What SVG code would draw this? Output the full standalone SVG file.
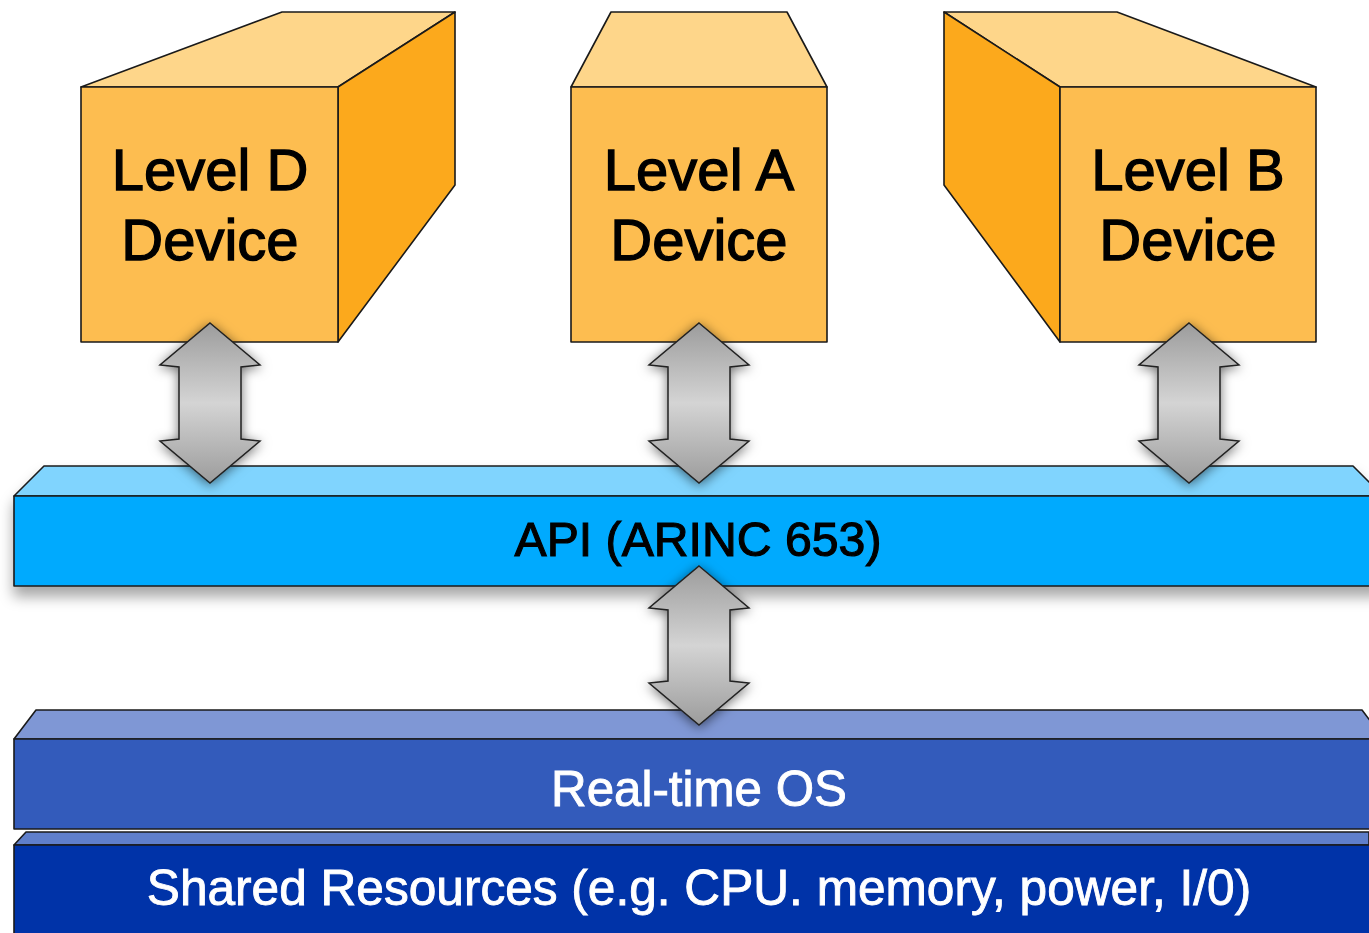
<svg xmlns="http://www.w3.org/2000/svg" width="1369" height="933" viewBox="0 0 1369 933">
<defs>
<style>
.edge{stroke:#1a1a1a;stroke-width:1.6;stroke-linejoin:round}
.topo{fill:#fed68a}
.front{fill:#fdbd50}
.side{fill:#fca91c}
.lbl{font-family:"Liberation Sans",Arial,sans-serif;font-size:58px;fill:#000;stroke:#000;stroke-width:1.3;text-anchor:middle}
.bar{font-family:"Liberation Sans",Arial,sans-serif;text-anchor:middle}
.arrow{fill:url(#ag);stroke:#222;stroke-width:1.5;stroke-linejoin:miter;filter:url(#ash)}
</style>
<linearGradient id="ag" x1="0" y1="0" x2="0" y2="1">
<stop offset="0" stop-color="#9c9c9c"/>
<stop offset="0.5" stop-color="#d4d4d4"/>
<stop offset="1" stop-color="#9c9c9c"/>
</linearGradient>
<filter id="ash" x="-50%" y="-30%" width="200%" height="160%">
<feDropShadow dx="0" dy="2" stdDeviation="6" flood-color="#000" flood-opacity="0.55"/>
</filter>
<filter id="bsh" x="-5%" y="-20%" width="110%" height="160%">
<feDropShadow dx="0" dy="10" stdDeviation="7" flood-color="#000" flood-opacity="0.35"/>
</filter>
</defs>
<rect width="1369" height="933" fill="#fff"/>

<g id="shared-resources">
<polygon points="14,845 26,832 1369,832 1369,845" fill="#5f7fcb" class="edge"/>
<rect x="14" y="845" width="1365" height="100" fill="#0033a8" class="edge"/>
<text class="bar" x="699" y="905" font-size="49.6" fill="#fff" stroke="#fff" stroke-width="0.9">Shared Resources (e.g. CPU. memory, power, I/0)</text>
</g>

<g id="rtos">
<polygon points="14,739 36,710 1362,710 1384,739" fill="#7f97d5" class="edge"/>
<rect x="14" y="739" width="1370" height="90" fill="#335bbb" class="edge"/>
<text class="bar" x="699" y="806" font-size="49.3" fill="#fff" stroke="#fff" stroke-width="0.9">Real-time OS</text>
</g>

<g id="api" filter="url(#bsh)">
<polygon points="14,496 44,466 1353,466 1383,496" fill="#80d4fe" class="edge"/>
<rect x="14" y="496" width="1370" height="90" fill="#00aafe" class="edge"/>
<text class="bar" x="698" y="556" font-size="48.2" fill="#000" stroke="#000" stroke-width="1.1">API (ARINC 653)</text>
</g>

<g id="level-d">
<polygon class="topo edge" points="81,87 282,12 455,12 338,87"/>
<polygon class="side edge" points="338,87 455,12 455,185 338,342"/>
<rect class="front edge" x="81" y="87" width="257" height="255"/>
<text class="lbl" x="210" y="190">Level D</text>
<text class="lbl" x="210" y="260">Device</text>
</g>

<g id="level-a">
<polygon class="topo edge" points="571,87 611,12 787,12 827,87"/>
<rect class="front edge" x="571" y="87" width="256" height="255"/>
<text class="lbl" x="699" y="190">Level A</text>
<text class="lbl" x="699" y="260">Device</text>
</g>

<g id="level-b">
<polygon class="topo edge" points="944,12 1117,12 1316,87 1060,87"/>
<polygon class="side edge" points="944,12 1060,87 1060,342 944,185"/>
<rect class="front edge" x="1060" y="87" width="256" height="255"/>
<text class="lbl" x="1188" y="190">Level B</text>
<text class="lbl" x="1188" y="260">Device</text>
</g>

<g id="connectors">
<polygon class="arrow" points="210,323 260,365 241,367 241,439 260,441 210,483 160,441 179,439 179,367 160,365"/>
<polygon class="arrow" points="699,323 749,365 730,367 730,439 749,441 699,483 649,441 668,439 668,367 649,365"/>
<polygon class="arrow" points="1189,323 1239,365 1220,367 1220,439 1239,441 1189,483 1139,441 1158,439 1158,367 1139,365"/>
<polygon class="arrow" points="699,566 749,608 730,610 730,681 749,683 699,725 649,683 668,681 668,610 649,608"/>
</g>
</svg>
